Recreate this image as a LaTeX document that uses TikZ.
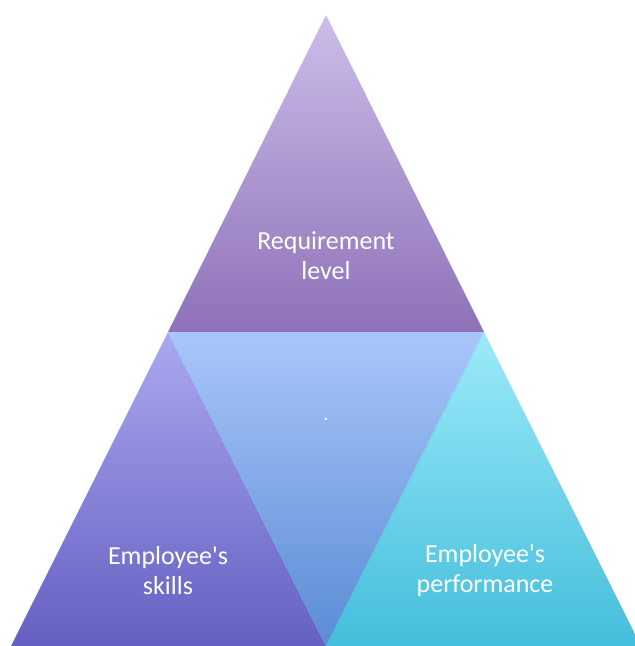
\documentclass[tikz,border=0pt]{standalone}
\usepackage{fontspec}
\setmainfont{Carlito}
\definecolor{reqtop}{HTML}{CDBDE9}
\definecolor{reqbot}{HTML}{8E71B8}
\definecolor{midtop}{HTML}{A9C6FA}
\definecolor{midbot}{HTML}{5A8CD5}
\definecolor{skltop}{HTML}{ABA8F0}
\definecolor{sklbot}{HTML}{6360C2}
\definecolor{prftop}{HTML}{9CEAF9}
\definecolor{prfbot}{HTML}{44BEDC}
\tikzset{
  label/.style={text=white,align=center,font=\fontsize{26}{30}\selectfont}
}

\begin{document}
\begin{tikzpicture}[x=1pt,y=-1pt]
    \useasboundingbox (0,0) rectangle (635,646);
    \shade[top color=reqtop,bottom color=reqbot] (326,15) -- (484,332) -- (168,332) -- cycle;
    \shade[top color=skltop,bottom color=sklbot] (168,332) -- (326,646) -- (11,646) -- cycle;
    \shade[top color=prftop,bottom color=prfbot] (484,332) -- (641,646) -- (326,646) -- cycle;
    \shade[top color=midtop,bottom color=midbot] (168,332) -- (484,332) -- (326,646) -- cycle;
    \node[label] (req) at (326,256) {Requirement\\level};
    \node[label,font=\fontsize{20}{24}\selectfont] (mid) at (326,419) {.};
    \node[label] (skills) at (168,571) {Employee\textquotesingle s\\skills};
    \node[label] (perf) at (485,571) {Employee\textquotesingle s\\performance};
\end{tikzpicture}
\end{document}
